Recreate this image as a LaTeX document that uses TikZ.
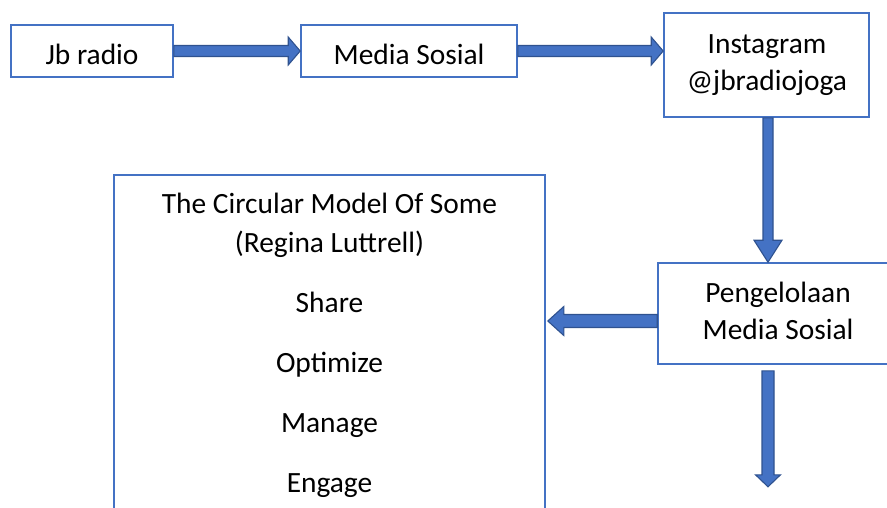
\documentclass[tikz,border=0pt]{standalone}
\usepackage{fontspec}
\setmainfont{Carlito}
\usetikzlibrary{calc}
\definecolor{boxblue}{RGB}{68,114,196}
\definecolor{arrowedge}{RGB}{47,82,143}
\begin{document}
\begin{tikzpicture}[x=1pt,y=-1pt,
  box/.style={draw=boxblue,line width=1.6pt,fill=white,rectangle,inner sep=0pt},
  txt/.style={anchor=base,inner sep=0pt,font=\fontsize{29.4}{37}\selectfont},
  barrow/.style={fill=boxblue,draw=arrowedge,line width=1.1pt,line join=miter}]
\useasboundingbox (0,0) rectangle (887,507);
\clip (0,0) rectangle (887,507);
% boxes
\node[box,minimum width=162pt,minimum height=52pt] (jb) at (92,51) {};
\node[box,minimum width=216pt,minimum height=52pt] (ms) at (409,51) {};
\node[box,minimum width=205pt,minimum height=104pt] (ig) at (766.5,65) {};
\node[box,minimum width=240pt,minimum height=101pt] (pg) at (778,313.5) {};
\node[box,minimum width=431pt,minimum height=360pt] (big) at (329.5,355) {};
% texts
\node[txt] (tjb) at (92,64) {Jb radio};
\node[txt] (tms) at (409,64) {Media Sosial};
\node[txt] (tig1) at (767,53) {Instagram};
\node[txt] (tig2) at (767,90.5) {@jbradiojoga};
\node[txt] (tpg1) at (778,302) {Pengelolaan};
\node[txt] (tpg2) at (778,339) {Media Sosial};
\node[txt] (tb1) at (329.5,213) {The Circular Model Of Some};
\node[txt] (tb2) at (329.5,252) {(Regina Luttrell)};
\node[txt] (tb3) at (329.5,312) {Share};
\node[txt] (tb4) at (329.5,372) {Optimize};
\node[txt] (tb5) at (329.5,432) {Manage};
\node[txt] (tb6) at (329.5,492) {Engage};
% arrow 1: jb -> ms
\draw[barrow] ($(jb.east)+(0,-5.5)$) -- ($(ms.west)+(-12,-5.5)$) -- ($(ms.west)+(-12,-14)$)
  -- (ms.west) -- ($(ms.west)+(-12,14)$) -- ($(ms.west)+(-12,5.5)$) -- ($(jb.east)+(0,5.5)$) -- cycle;
% arrow 2: ms -> ig
\coordinate (a2e) at (ms.east -| ig.west);
\draw[barrow] ($(ms.east)+(0,-5.5)$) -- ($(a2e)+(-12,-5.5)$) -- ($(a2e)+(-12,-14)$)
  -- (a2e) -- ($(a2e)+(-12,14)$) -- ($(a2e)+(-12,5.5)$) -- ($(ms.east)+(0,5.5)$) -- cycle;
% arrow 3: ig -> pg
\coordinate (a3s) at ($(ig.south)+(1.5,0)$);
\coordinate (a3e) at (a3s |- pg.north);
\draw[barrow] ($(a3s)+(-5,0)$) -- ($(a3e)+(-5,-22)$) -- ($(a3e)+(-14,-22)$)
  -- (a3e) -- ($(a3e)+(14,-22)$) -- ($(a3e)+(5,-22)$) -- ($(a3s)+(5,0)$) -- cycle;
% arrow 4: pg -> big
\coordinate (a4s) at ($(pg.west)+(0,7.5)$);
\coordinate (a4e) at ($(big.east |- a4s)+(2,0)$);
\draw[barrow] ($(a4s)+(0,-6.5)$) -- ($(a4e)+(16,-6.5)$) -- ($(a4e)+(16,-14.5)$)
  -- (a4e) -- ($(a4e)+(16,14.5)$) -- ($(a4e)+(16,6.5)$) -- ($(a4s)+(0,6.5)$) -- cycle;
% arrow 5: pg -> down
\coordinate (a5s) at ($(pg.south -| a3s)+(0,6)$);
\coordinate (a5e) at ($(a5s)+(0,116)$);
\draw[barrow] ($(a5s)+(-6,0)$) -- ($(a5e)+(-6,-12)$) -- ($(a5e)+(-12.5,-12)$)
  -- (a5e) -- ($(a5e)+(12.5,-12)$) -- ($(a5e)+(6,-12)$) -- ($(a5s)+(6,0)$) -- cycle;
\end{tikzpicture}
\end{document}
